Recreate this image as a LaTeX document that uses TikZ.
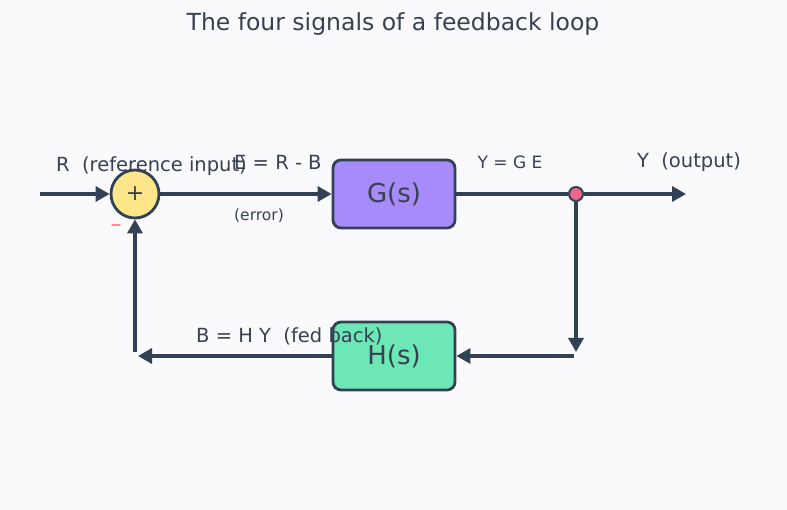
\documentclass[tikz,border=0pt]{standalone}
\usepackage{fontspec}
\setmainfont{DejaVu Sans}
\usetikzlibrary{arrows.meta}
\definecolor{bg}{HTML}{FAFAFD}
\definecolor{ink}{HTML}{334155}
\definecolor{txt}{HTML}{374151}
\definecolor{yel}{HTML}{FDE68A}
\definecolor{pur}{HTML}{A78BFA}
\definecolor{grn}{HTML}{6EE7B7}
\definecolor{pnk}{HTML}{EF6487}
\definecolor{minus}{HTML}{F87171}
\begin{document}
\begin{tikzpicture}[x=1pt,y=-1pt,
  wire/.style={draw=ink,line width=3.3pt},
  arr/.style={wire,-{Triangle[length=14pt,width=15pt]}},
  blk/.style={draw=ink,line width=2.8pt,rounded corners=8pt,minimum width=122pt,minimum height=68pt,inner sep=0pt,text=txt,font=\fontsize{26}{30}\selectfont},
  lbl/.style={text=txt,inner sep=0pt,font=\fontsize{19.5}{23}\selectfont},
  sml/.style={text=txt,inner sep=0pt,font=\fontsize{17}{20}\selectfont}]
\fill[bg] (0,0) rectangle (787,510);
\useasboundingbox (0,0) rectangle (787,510);
\node[text=txt,font=\fontsize{23.5}{28}\selectfont] (title) at (393,24) {The four signals of a feedback loop};
\node[circle,draw=ink,line width=2.8pt,fill=yel,minimum size=48pt,inner sep=0pt,text=txt,font=\fontsize{22}{26}\selectfont] (sum) at (135,194) {+};
\node[blk,fill=pur] (G) at (394,194) {G(s)};
\node[blk,fill=grn] (H) at (394,356) {H(s)};
\node[circle,draw=ink,line width=2pt,fill=pnk,minimum size=14pt,inner sep=0pt] (dot) at (576,194) {};
\coordinate (in) at (40,194);
\coordinate (out) at (686,194);
\coordinate (dn) at (576,352);
\coordinate (rt) at (574,356);
\coordinate (lf) at (138,356);
\coordinate (up) at (135,352);
\draw[arr] (in) -- (sum);
\draw[arr] (sum) -- (G);
\draw[wire] (G) -- (dot);
\draw[arr] (dot) -- (out);
\draw[arr] (dot) -- (dn);
\draw[arr] (rt) -- (H);
\draw[arr] (H) -- (lf);
\draw[arr] (up) -- (sum);
\node[text=minus,inner sep=0pt,font=\fontsize{22}{26}\selectfont] (m) at (116,228) {–};
\node[lbl,anchor=west] (lr) at (56,166) {R\ \ (reference input)};
\node[lbl,anchor=west] (le) at (234,162) {E = R - B};
\node[text=txt,inner sep=0pt,font=\fontsize{15.5}{18}\selectfont] (ler) at (259,216) {(error)};
\node[sml] (ly) at (510,162) {Y = G E};
\node[lbl] (lo) at (689,162) {Y\ \ (output)};
\node[lbl,anchor=west] (lb) at (196,336) {B = H Y\ \ (fed back)};
\end{tikzpicture}
\end{document}
